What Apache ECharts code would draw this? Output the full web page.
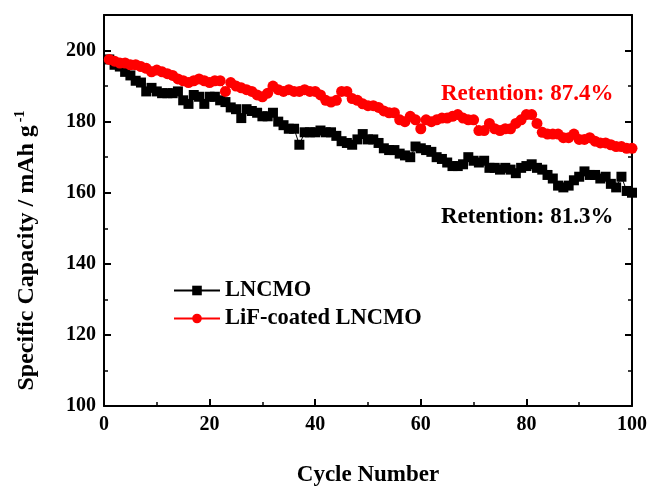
<!DOCTYPE html>
<html><head><meta charset="utf-8">
<script src="https://cdn.jsdelivr.net/npm/echarts@6/dist/echarts.min.js"></script>
<style>html,body{margin:0;padding:0;background:#fff}#c{width:654px;height:495px}</style>
</head><body><div id="c"></div>
<script>
const cycles = Array.from({length:100},(_,i)=>i+1);
const lncmo = [197.5,196,195.5,194,193,191.5,191,188.5,189.5,188.5,
188,188,188,188.5,186,185,187.5,187,185,187,
187,186,185.5,184,183.5,181,183.5,183,182.5,181.5,
181.5,182.5,180,179,178,178,173.5,177,177,177,
177.5,177,177,176,174.5,174,173.5,175,176.5,175,
175,174,172.5,172,172,171,170.5,170,173,172.5,
172,171.5,170,169.5,168.5,167.5,167.5,168,170,169,
168.5,169,167,167,166.5,167,166.5,165.5,167,167.5,
168,167,166.5,165,164,162,161.5,162,163.5,164.5,
166,165,165,164,164.5,162.5,161.5,164.5,160.5,160];
const lif = [197.5,197,196.5,196.5,196,196,195.5,195,194,194.5,
194,193.5,193,192,191.5,191,191.5,192,191.5,191,
191.5,191.5,188.5,191,190,189.5,189,188.5,187.5,187,
188,190,189,188.5,189,188.5,188.5,189,188.5,188.5,
187.5,186,185.5,186,188.5,188.5,186.5,186,185,184.5,
184.5,184,183,182.5,182.5,180.5,180,181.5,180.5,178,
180.5,180,180.5,181,181,181.5,182,181,180.5,180.5,
177.5,177.5,179.5,178,177.5,178,178,179.5,180.5,182,
182,179.5,177,176.5,176.5,176.5,175.5,175.5,176.5,175,
175,175.5,174.5,174,174,173.5,173,173,172.5,172.5];
const seriesNames = ['LNCMO','LiF-coated LNCMO'];
const xTicks = [0,20,40,60,80,100];
const yTicks = [100,120,140,160,180,200];

const FONT = 'Liberation Serif';
const axisCommon = {
  axisLine:{show:true,onZero:false,lineStyle:{color:'#000',width:2}},
  axisTick:{show:true,inside:true,length:7,lineStyle:{color:'#000',width:2}},
  minorTick:{show:true,splitNumber:2,length:4,lineStyle:{color:'#000',width:1.5}},
  splitLine:{show:false}
};
const chart = echarts.init(document.getElementById('c'));
chart.setOption({
  animation:false,
  backgroundColor:'#fff',
  grid:{left:104,right:22,top:15,bottom:89},
  xAxis:[
    Object.assign({type:'value',min:0,max:100,interval:20,position:'bottom',
      name:'Cycle Number',nameLocation:'middle',nameGap:58,
      nameTextStyle:{fontFamily:FONT,fontWeight:'bold',fontSize:23,color:'#000'},
      axisLabel:{fontFamily:FONT,fontWeight:'bold',fontSize:20,color:'#000',margin:9,
        formatter:v=>xTicks.includes(v)?String(v):''}},axisCommon),
    Object.assign({type:'value',min:0,max:100,interval:20,position:'top',axisLabel:{show:false}},axisCommon,
      {axisTick:{show:false},minorTick:{show:false}})
  ],
  yAxis:[
    Object.assign({type:'value',min:100,max:210,interval:20,position:'left',
      name:'{a|Specific Capacity / mAh g}{b|-1}',nameLocation:'middle',nameGap:63,
      nameTextStyle:{fontFamily:FONT,fontWeight:'bold',fontSize:24,color:'#000',padding:[0,80,0,0],
        rich:{a:{fontFamily:FONT,fontWeight:'bold',fontSize:24,color:'#000'},
              b:{fontFamily:FONT,fontWeight:'bold',fontSize:14,color:'#000',padding:[0,0,14,3]}}},
      axisLabel:{fontFamily:FONT,fontWeight:'bold',fontSize:20,color:'#000',margin:8,
        formatter:v=>yTicks.includes(v)?String(v):''}},axisCommon),
    Object.assign({type:'value',min:100,max:210,interval:20,position:'right',axisLabel:{show:false}},axisCommon)
  ],
  legend:{
    orient:'vertical',left:168,top:274,itemGap:5,itemWidth:46,itemHeight:12,
    textStyle:{fontFamily:FONT,fontWeight:'bold',fontSize:22.5,color:'#000'},
    data:seriesNames
  },
  graphic:[
    {type:'text',left:441,top:83,style:{text:'Retention: 87.4%',fill:'#ff0000',font:'bold 23px "Liberation Serif"'}},
    {type:'text',left:441,top:206,style:{text:'Retention: 81.3%',fill:'#000',font:'bold 23px "Liberation Serif"'}}
  ],
  series:[
    {name:seriesNames[0],type:'line',data:cycles.map((c,i)=>[c,lncmo[i]]),
      symbol:'rect',symbolSize:10,color:'#000',lineStyle:{color:'#000',width:1},itemStyle:{color:'#000'}},
    {name:seriesNames[1],type:'line',data:cycles.map((c,i)=>[c,lif[i]]),
      symbol:'circle',symbolSize:11,color:'#ff0000',lineStyle:{color:'#ff0000',width:1},itemStyle:{color:'#ff0000'}}
  ]
});
</script></body></html>
